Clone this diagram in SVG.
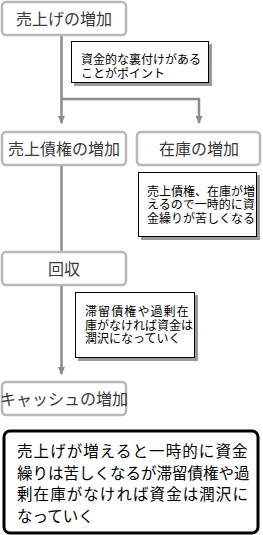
<svg xmlns="http://www.w3.org/2000/svg" width="263" height="535" viewBox="0 0 263 535">
<defs>
<style>
.box{fill:#fff;stroke:#b9b9b9;stroke-width:2.5}
.btxt{font-family:"Noto Sans CJK JP","Noto Sans CJK SC",sans-serif;font-size:16px;fill:#3a3a3a;text-anchor:middle}
.note{fill:#fff;stroke:#000;stroke-width:1}
.shadow{fill:#9a9a9a}
.ntxt{font-family:"Noto Sans CJK JP","Noto Sans CJK SC",sans-serif;font-size:12px;fill:#000}
.conn{fill:none;stroke:#8c8c8c;stroke-width:2.5}
.sum{fill:#fff;stroke:#000;stroke-width:3}
.stxt{font-family:"Noto Sans CJK JP","Noto Sans CJK SC",sans-serif;font-size:15.5px;fill:#000}
</style>
<marker id="arr" markerWidth="8" markerHeight="7" refX="7" refY="3.5" orient="auto" markerUnits="userSpaceOnUse">
<path d="M0,0 L8,3.5 L0,7 Z" fill="#8c8c8c"/>
</marker>
</defs>
<g id="connectors">
<path class="conn" d="M61.5,35 V99 M61.5,99 V123" marker-end="url(#arr)"/>
<path class="conn" d="M61.5,99 H199 V123" marker-end="url(#arr)"/>
<path class="conn" d="M61.5,165 V253"/>
<path class="conn" d="M61.5,285 V374" marker-end="url(#arr)"/>
</g>
<g id="n1"><rect class="box" x="2" y="2" width="124" height="33" rx="4"/><text class="btxt" x="64" y="25">売上げの増加</text></g>
<g id="note1"><rect class="shadow" x="74" y="44" width="138" height="42"/><rect class="note" x="71.5" y="41.5" width="137" height="41"/><text class="ntxt"><tspan x="81" y="64">資金的な裏付けがある</tspan><tspan x="81" y="78">ことがポイント</tspan></text></g>
<g id="n2"><rect class="box" x="2" y="132" width="124" height="33" rx="4"/><text class="btxt" x="64" y="155">売上債権の増加</text></g>
<g id="n3"><rect class="box" x="137" y="132" width="123" height="33" rx="4"/><text class="btxt" x="199" y="155">在庫の増加</text></g>
<g id="note2"><rect class="shadow" x="141" y="175" width="119" height="65"/><rect class="note" x="138.5" y="172.5" width="118" height="64"/><text class="ntxt"><tspan x="147" y="195.5">売上債権、在庫が増</tspan><tspan x="147" y="209">えるので一時的に資</tspan><tspan x="147" y="222.5">金繰りが苦しくなる</tspan></text></g>
<g id="n4"><rect class="box" x="2" y="252" width="124" height="33" rx="4"/><text class="btxt" x="64" y="275">回収</text></g>
<g id="note3"><rect class="shadow" x="78" y="295" width="120" height="66"/><rect class="note" x="75.5" y="292.5" width="119" height="65"/><text class="ntxt"><tspan x="85" y="316" letter-spacing="1.1">滞留債権や過剰在</tspan><tspan x="85" y="329.5">庫がなければ資金は</tspan><tspan x="85" y="343">潤沢になっていく</tspan></text></g>
<g id="n5"><rect class="box" x="2" y="382" width="124" height="33" rx="4"/><text class="btxt" x="64" y="405">キャッシュの増加</text></g>
<g id="summary"><rect class="sum" x="4" y="431" width="254" height="102" rx="6"/><text class="stxt"><tspan x="17" y="457" letter-spacing="1.07">売上げが増えると一時的に資金</tspan><tspan x="17" y="478.7">繰りは苦しくなるが滞留債権や過</tspan><tspan x="17" y="500.4" letter-spacing="1.07">剰在庫がなければ資金は潤沢に</tspan><tspan x="17" y="522">なっていく</tspan></text></g>
</svg>
